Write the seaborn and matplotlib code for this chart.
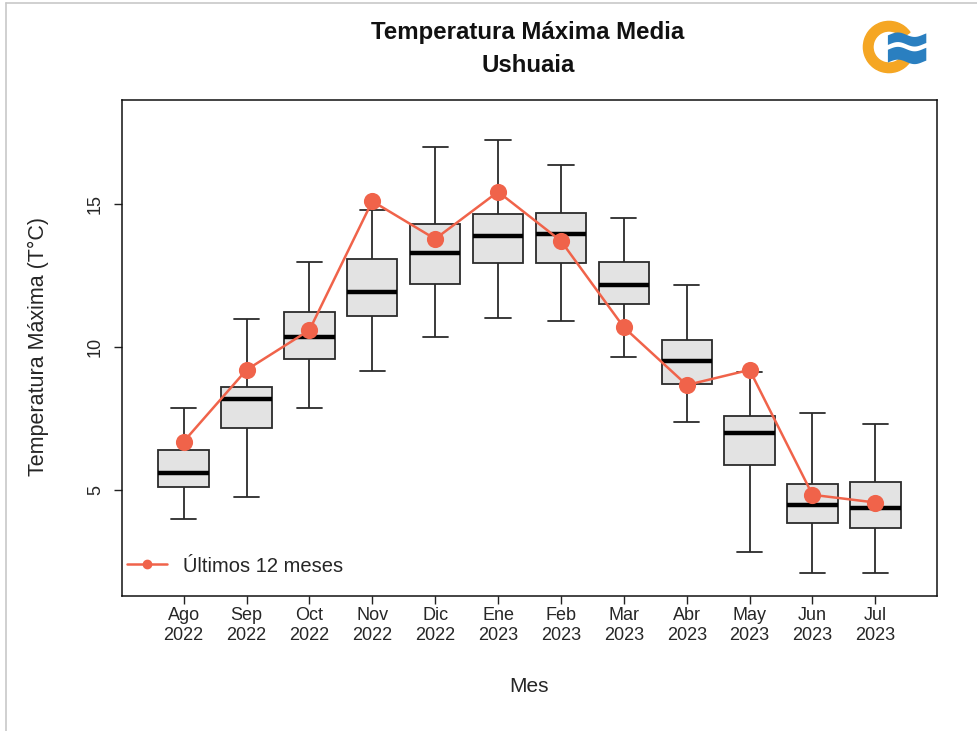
import numpy as np
import pandas as pd
import matplotlib
matplotlib.use("Agg")
import matplotlib.pyplot as plt
from matplotlib.patches import Wedge
from matplotlib.lines import Line2D
import seaborn as sns

# Meses (etiquetas del eje x)
meses = ["Ago\n2022", "Sep\n2022", "Oct\n2022", "Nov\n2022", "Dic\n2022", "Ene\n2023",
         "Feb\n2023", "Mar\n2023", "Abr\n2023", "May\n2023", "Jun\n2023", "Jul\n2023"]

# Estadisticos de las cajas (serie historica)
bigote_inf = [3.98, 4.77, 7.86, 9.17, 10.36, 11.00, 10.91, 9.66, 7.39, 2.84, 2.09, 2.09]
q1 = [5.09, 7.16, 9.57, 11.09, 12.19, 12.93, 12.93, 11.50, 8.71, 5.87, 3.86, 3.66]
mediana = [5.58, 8.18, 10.36, 11.91, 13.30, 13.88, 13.97, 12.18, 9.52, 6.98, 4.48, 4.36]
q3 = [6.40, 8.61, 11.21, 13.08, 14.29, 14.64, 14.67, 12.96, 10.24, 7.59, 5.20, 5.27]
bigote_sup = [7.86, 10.99, 12.96, 14.79, 17.00, 17.24, 16.37, 14.52, 12.17, 9.14, 7.70, 7.30]

# Ultimos 12 meses
ultimos = [6.69, 9.20, 10.59, 15.10, 13.78, 15.43, 13.71, 10.69, 8.67, 9.20, 4.83, 4.56]

# tabla larga: con 5 valores por mes, los cuartiles coinciden con q1 / mediana / q3
filas = []
for i, m in enumerate(meses):
    for v in (bigote_inf[i], q1[i], mediana[i], q3[i], bigote_sup[i]):
        filas.append({"mes": m, "valor": v})
df = pd.DataFrame(filas)

sns.set_style("ticks")
plt.rcParams["font.family"] = ["Liberation Sans", "DejaVu Sans"]

color_linea = "#f0634a"
gris_texto = "#262626"

fig = plt.figure(figsize=(9.77, 7.31), dpi=100)
ax = fig.add_axes([122 / 977, 1 - 596 / 731, 815 / 977, 496 / 731])

sns.boxplot(data=df, x="mes", y="valor", order=meses, whis=(0, 100), width=0.8,
            color="#e3e3e3", linecolor="#2b2b2b", linewidth=1.3, saturation=1,
            medianprops=dict(color="black", linewidth=3.2), ax=ax)

sns.pointplot(x=meses, y=ultimos, order=meses, color=color_linea, markers="o",
              markersize=11, linewidth=1.8, ax=ax, zorder=5)

ax.set_xlim(-0.98, 11.98)
ax.set_ylim(1.29, 18.64)
ax.set_yticks([5, 10, 15])
ax.set_xlabel("")
ax.set_ylabel("")

ax.tick_params(axis="both", direction="out", length=6, width=1, color="#222222",
               labelsize=13, labelcolor=gris_texto)
ax.tick_params(axis="x", pad=2)
ax.tick_params(axis="y", pad=7)
for lab in ax.get_xticklabels():
    lab.set_linespacing(1.2)
for lab in ax.get_yticklabels():
    lab.set_rotation(90)
    lab.set_va("center")
for s in ax.spines.values():
    s.set_visible(True)
    s.set_color("#111111")
    s.set_linewidth(1.1)

# leyenda
h = Line2D([], [], color=color_linea, marker="o", markersize=6, linewidth=1.8)
ax.legend([h], ["Últimos 12 meses"], loc="center left", bbox_to_anchor=(5 / 815, 30 / 496),
          frameon=False, fontsize=14.5, handlelength=2.0, handletextpad=0.8,
          borderpad=0, borderaxespad=0, labelcolor=gris_texto)

# titulos y etiquetas
fig.text(528 / 977, 1 - 33 / 731, "Temperatura Máxima Media", ha="center", va="center",
         fontsize=17.3, fontweight="bold", color="#111111")
fig.text(528 / 977, 1 - 66 / 731, "Ushuaia", ha="center", va="center",
         fontsize=17.3, fontweight="bold", color="#111111")
fig.text(529 / 977, 1 - 687 / 731, "Mes", ha="center", va="center", fontsize=15,
         color=gris_texto)
fig.text(38 / 977, 1 - 347 / 731, "Temperatura Máxima (T°C)", ha="center", va="center",
         rotation=90, fontsize=15.5, color=gris_texto)

# marco gris exterior
fig.add_artist(Line2D([6 / 977, 6 / 977], [0, 1 - 3 / 731], color="#c8c8c8", linewidth=1.2))
fig.add_artist(Line2D([6 / 977, 1], [1 - 3 / 731, 1 - 3 / 731], color="#c8c8c8", linewidth=1.2))

# logo
axl = fig.add_axes([857 / 977, 1 - 79 / 731, 80 / 977, 64 / 731])
axl.set_xlim(-1, 1.5)
axl.set_ylim(-1, 1)
axl.axis("off")
axl.add_patch(Wedge((0, 0), 0.8, 35, 325, width=0.3, color="#f5a623"))
xs = np.linspace(-0.05, 1.15, 60)
onda = 0.07 * np.sin(xs * 6)
axl.fill_between(xs, 0.1 + onda, 0.4 + onda, color="#2a7fc0", linewidth=0)
axl.fill_between(xs, -0.45 + onda, -0.05 + onda, color="#2a7fc0", linewidth=0)

fig.savefig("out.png", dpi=100)
